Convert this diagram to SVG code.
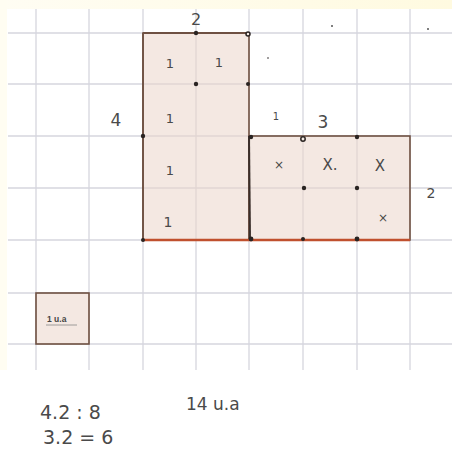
<svg xmlns="http://www.w3.org/2000/svg" width="452" height="457" viewBox="0 0 452 457">
<defs>
<style>
.grid line{stroke:#d6d6de;stroke-width:1.3}
.shape{fill:#ebd5ca;fill-opacity:0.55;stroke:#6e5042;stroke-width:1.6}
.dot{fill:#2a2422}
.odot{fill:#f4e9e3;stroke:#2a2422;stroke-width:1.5}
.hw{font-family:"DejaVu Sans",sans-serif;fill:#4a4a4a}
</style>
<linearGradient id="yl" x1="0" y1="0" x2="1" y2="0">
<stop offset="0" stop-color="#fffdf3"/><stop offset="1" stop-color="#fffae0"/>
</linearGradient>
</defs>
<rect width="452" height="457" fill="#ffffff"/>
<rect x="0" y="0" width="452" height="9" fill="url(#yl)"/>
<rect x="0" y="0" width="7" height="370" fill="#fffdf2"/>
<g class="grid">
<line x1="36" y1="9" x2="36" y2="370"/><line x1="89" y1="9" x2="89" y2="370"/>
<line x1="143" y1="9" x2="143" y2="370"/><line x1="196" y1="9" x2="196" y2="370"/>
<line x1="249" y1="9" x2="249" y2="370"/><line x1="303" y1="9" x2="303" y2="370"/>
<line x1="357" y1="9" x2="357" y2="370"/><line x1="410" y1="9" x2="410" y2="370"/>
<line x1="8" y1="33" x2="452" y2="33"/><line x1="8" y1="84" x2="452" y2="84"/>
<line x1="8" y1="136" x2="452" y2="136"/><line x1="8" y1="188" x2="452" y2="188"/>
<line x1="8" y1="240" x2="452" y2="240"/><line x1="8" y1="293" x2="452" y2="293"/>
<line x1="8" y1="344" x2="452" y2="344"/>
</g>
<g id="tall-rect"><rect class="shape" x="143" y="33" width="106" height="207"/></g>
<g id="wide-rect"><rect class="shape" x="249" y="136" width="161" height="104"/></g>
<g id="unit-square"><rect class="shape" x="36" y="293" width="53" height="51"/>
<text x="47" y="322" font-family="Liberation Sans,Arial,sans-serif" font-size="8.5" font-weight="bold" fill="#444">1 u.a</text>
<line x1="46" y1="325" x2="77" y2="325" stroke="#888" stroke-width="0.8"/></g>
<g id="edges">
<line x1="143" y1="33" x2="143" y2="240" stroke="#6e5042" stroke-width="1.6"/>
<line x1="143" y1="33" x2="249" y2="33" stroke="#6e5042" stroke-width="1.8"/>
<line x1="249" y1="136" x2="250" y2="240" stroke="#3a2e2a" stroke-width="2"/>
<line x1="143" y1="240" x2="410" y2="240" stroke="#c0502e" stroke-width="2.4"/>
</g>
<g id="dots">
<circle class="dot" cx="196" cy="33" r="2.2"/><circle class="odot" cx="248" cy="34" r="2"/>
<circle class="dot" cx="196" cy="84" r="2.2"/><circle class="dot" cx="248" cy="84" r="2"/>
<circle class="dot" cx="143" cy="136" r="2.2"/><circle class="dot" cx="251" cy="137" r="2.2"/>
<circle class="odot" cx="303" cy="139" r="2.2"/><circle class="dot" cx="357" cy="137" r="2.2"/>
<circle class="dot" cx="304" cy="188" r="2.2"/><circle class="dot" cx="357" cy="188" r="2.2"/>
<circle class="dot" cx="143" cy="240" r="2"/><circle class="dot" cx="251" cy="239" r="2.4"/>
<circle class="dot" cx="303" cy="239" r="2"/><circle class="dot" cx="357" cy="239" r="2.4"/>
<circle class="dot" cx="268" cy="58" r="0.8" fill="#777"/><circle cx="332" cy="26" r="1" fill="#555"/>
<circle cx="428" cy="29" r="1" fill="#555"/>
</g>
<g id="labels">
<text class="hw" x="196" y="25" font-size="16" text-anchor="middle">2</text>
<text class="hw" x="116" y="126" font-size="17" text-anchor="middle">4</text>
<text class="hw" x="323" y="128" font-size="17" text-anchor="middle">3</text>
<text class="hw" x="431" y="198" font-size="14" text-anchor="middle" fill="#888">2</text>
<text class="hw" x="170" y="68" font-size="13" text-anchor="middle">1</text>
<text class="hw" x="219" y="67" font-size="13" text-anchor="middle">1</text>
<text class="hw" x="170" y="123" font-size="13" text-anchor="middle">1</text>
<text class="hw" x="170" y="175" font-size="13" text-anchor="middle">1</text>
<text class="hw" x="168" y="227" font-size="14" text-anchor="middle">1</text>
<text class="hw" x="276" y="120" font-size="10" text-anchor="middle" fill="#bbb">1</text>
<text class="hw" x="279" y="169" font-size="12" text-anchor="middle">×</text>
<text class="hw" x="330" y="170" font-size="15" text-anchor="middle">X.</text>
<text class="hw" x="380" y="171" font-size="15" text-anchor="middle">X</text>
<text class="hw" x="383" y="222" font-size="12" text-anchor="middle">×</text>
<text class="hw" x="40" y="419" font-size="19">4.2 : 8</text>
<text class="hw" x="43" y="444" font-size="19">3.2 = 6</text>
<text class="hw" x="186" y="410" font-size="17">14 u.a</text>
</g>
</svg>
